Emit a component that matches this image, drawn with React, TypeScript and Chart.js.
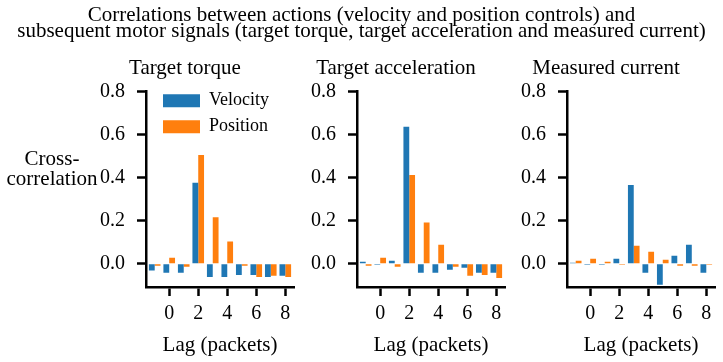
import React, { useEffect, useRef } from "react";
import { Chart, registerables } from "chart.js";

Chart.register(...registerables);

// ---------- data ----------
const lags = [-1, 0, 1, 2, 3, 4, 5, 6, 7, 8];
const xTickValues = [0, 2, 4, 6, 8];
const yTickValues = [0, 0.2, 0.4, 0.6, 0.8];
const seriesNames = ["Velocity", "Position"];
const panelTitles = ["Target torque", "Target acceleration", "Measured current"];
const mainTitleLines = [
  "Correlations between actions (velocity and position controls) and",
  "subsequent motor signals (target torque, target acceleration and measured current)",
];
const yLabelLines = ["Cross-", "correlation"];
const xLabel = "Lag (packets)";

const torqueVelocity = [-0.031, -0.042, -0.042, 0.377, -0.061, -0.061, -0.052, -0.052, -0.061, -0.056];
const torquePosition = [-0.009, 0.028, -0.014, 0.506, 0.216, 0.103, -0.009, -0.061, -0.056, -0.061];
const accelVelocity = [0.009, -0.005, 0.014, 0.637, -0.042, -0.042, -0.028, -0.019, -0.042, -0.042];
const accelPosition = [-0.009, 0.028, -0.014, 0.413, 0.192, 0.089, -0.014, -0.056, -0.052, -0.066];
const currentVelocity = [0.005, -0.005, -0.005, 0.023, 0.366, -0.042, -0.098, 0.037, 0.089, -0.042];
const currentPosition = [0.014, 0.023, 0.009, -0.005, 0.084, 0.056, 0.019, -0.009, -0.009, -0.005];

// ---------- style / layout ----------
const BLUE = "#1f77b4";
const ORANGE = "#ff7f0e";
const FONT = "'Liberation Serif', 'Times New Roman', serif";
const SPINES = [146, 357, 567];
const AXIS_W = 70;
const PLOT_W = 148;
const CANVAS_W = AXIS_W * 2 + PLOT_W;
const H = 362;
const X_AXIS_H = 75;

const legendShift = {
  id: "legendShift",
  afterLayout(chart: any) {
    const l = chart.legend;
    if (l) {
      l.left = chart.chartArea.left + 9;
      l.top = chart.chartArea.top - 8;
    }
  },
};

function Panel(props: { index: number; velocity: number[]; position: number[]; showLegend: boolean }) {
  const { index, velocity, position, showLegend } = props;
  const ref = useRef<HTMLCanvasElement>(null);
  useEffect(() => {
    const axisCommon = {
      grid: {
        display: true,
        drawOnChartArea: false,
        drawTicks: true,
        tickLength: 9,
        tickWidth: 2.5,
        tickColor: "#000",
        offset: false,
      },
      border: { display: true, color: "#000", width: 2.5 },
    };
    const chart = new Chart(ref.current as HTMLCanvasElement, {
      type: "bar",
      data: {
        datasets: [
          {
            label: seriesNames[0],
            data: lags.map((x, i) => ({ x, y: velocity[i] })),
            backgroundColor: BLUE,
            borderWidth: 0,
            categoryPercentage: 0.8,
            barPercentage: 1,
          },
          {
            label: seriesNames[1],
            data: lags.map((x, i) => ({ x, y: position[i] })),
            backgroundColor: ORANGE,
            borderWidth: 0,
            categoryPercentage: 0.8,
            barPercentage: 1,
          },
        ],
      } as any,
      options: {
        animation: false,
        responsive: false,
        devicePixelRatio: 1,
        layout: { padding: { left: 0, right: AXIS_W, top: 0, bottom: 0 } },
        plugins: {
          title: {
            display: true,
            text: panelTitles[index],
            color: "#000",
            font: { family: FONT, size: 21, weight: "normal", lineHeight: 1.2 },
            padding: { top: 55.4, bottom: 11.1 },
          },
          legend: showLegend
            ? {
                display: true,
                position: "chartArea",
                align: "start",
                labels: {
                  boxWidth: 37,
                  boxHeight: 13,
                  padding: 8,
                  color: "#000",
                  font: { family: FONT, size: 18 },
                },
              }
            : { display: false },
          tooltip: { enabled: false },
        },
        scales: {
          x: {
            type: "linear",
            min: -1.6,
            max: 8.6,
            offset: false,
            afterBuildTicks: (s: any) => {
              s.ticks = xTickValues.map((v) => ({ value: v }));
            },
            afterFit: (s: any) => {
              s.height = X_AXIS_H;
            },
            ticks: {
              color: "#000",
              padding: 6,
              maxRotation: 0,
              font: { family: FONT, size: 20 },
              callback: (v: any) => String(v),
            },
            title: {
              display: true,
              text: xLabel,
              color: "#000",
              font: { family: FONT, size: 21, lineHeight: 1.2 },
              padding: { top: 0, bottom: 4.4 },
            },
            ...axisCommon,
          },
          y: {
            type: "linear",
            min: -0.108,
            max: 0.8,
            afterBuildTicks: (s: any) => {
              s.ticks = yTickValues.map((v) => ({ value: v }));
            },
            afterFit: (s: any) => {
              s.width = AXIS_W;
            },
            ticks: {
              color: "#000",
              padding: 12,
              font: { family: FONT, size: 20 },
              callback: (v: any) => Number(v).toFixed(1),
            },
            ...axisCommon,
          },
        },
      } as any,
      plugins: showLegend ? [legendShift as any] : [],
    });
    return () => chart.destroy();
  }, []);
  return (
    <canvas
      ref={ref}
      width={CANVAS_W}
      height={H}
      style={{ position: "absolute", left: SPINES[index] - AXIS_W, top: 0, width: CANVAS_W, height: H }}
    />
  );
}

export default function App() {
  const textStyle: React.CSSProperties = {
    position: "absolute",
    fontFamily: FONT,
    fontSize: 21,
    color: "#000",
    textAlign: "center",
    whiteSpace: "nowrap",
  };
  return (
    <div
      style={{
        position: "absolute",
        left: 0,
        top: 0,
        width: 723,
        height: 362,
        overflow: "hidden",
        background: "#fff",
      }}
    >
      <Panel index={0} velocity={torqueVelocity} position={torquePosition} showLegend={true} />
      <Panel index={1} velocity={accelVelocity} position={accelPosition} showLegend={false} />
      <Panel index={2} velocity={currentVelocity} position={currentPosition} showLegend={false} />
      <div style={{ ...textStyle, left: 0, top: 5.6, width: 723, lineHeight: "16px" }}>
        {mainTitleLines.map((l, i) => (
          <div key={i}>{l}</div>
        ))}
      </div>
      <div style={{ ...textStyle, left: 0, top: 148, width: 104, lineHeight: "20px" }}>
        {yLabelLines.map((l, i) => (
          <div key={i}>{l}</div>
        ))}
      </div>
    </div>
  );
}
